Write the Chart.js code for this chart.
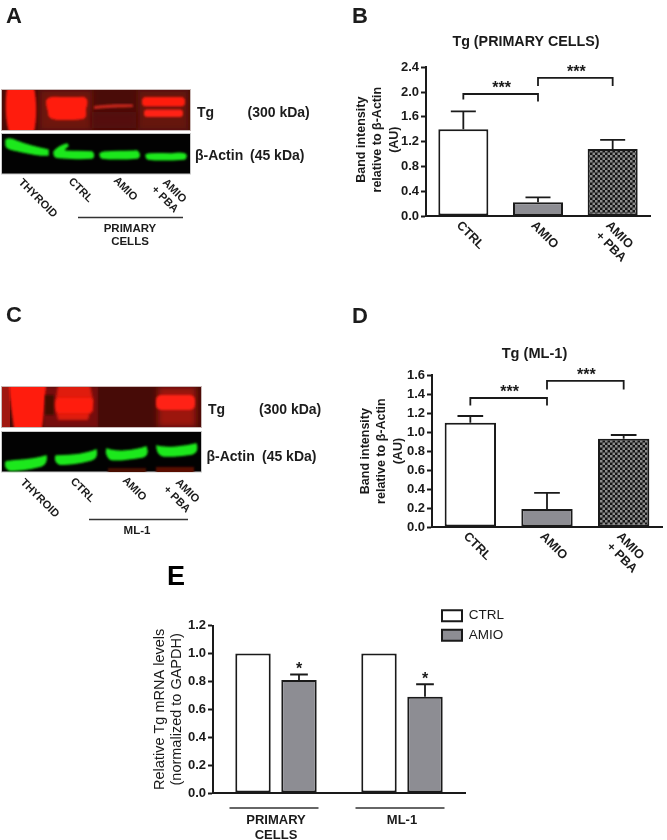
<!DOCTYPE html>
<html><head><meta charset="utf-8">
<script src="https://cdn.jsdelivr.net/npm/chart.js@4/dist/chart.umd.min.js"></script>
<style>
html,body{margin:0;padding:0;background:#fff;width:667px;height:840px;overflow:hidden}
#wrap{position:relative;width:667px;height:840px;filter:blur(0.4px)}
#wrap canvas,#wrap svg{position:absolute}
svg text{font-family:"Liberation Sans",Arial,sans-serif;font-weight:bold;fill:#1c1c1c}
</style></head><body>
<div id="wrap">
<svg id="art" width="667" height="840" style="left:0;top:0">
<defs>
<filter id="b1" x="-20%" y="-20%" width="140%" height="140%"><feGaussianBlur stdDeviation="1"/></filter>
<filter id="b2" x="-20%" y="-20%" width="140%" height="140%"><feGaussianBlur stdDeviation="1.800"/></filter>
<filter id="b3" x="-20%" y="-40%" width="140%" height="180%"><feGaussianBlur stdDeviation="3"/></filter>
<clipPath id="cA1"><rect x="2" y="90" width="188" height="40"/></clipPath>
<clipPath id="cC1"><rect x="2" y="387" width="199" height="40"/></clipPath>
<clipPath id="cC2"><rect x="2" y="432" width="199" height="40"/></clipPath>
</defs>
<!-- panel A blots -->
<rect x="1.500" y="89.500" width="189" height="41" fill="#4a0c08" stroke="#c9b9b7"/>
<g clip-path="url(#cA1)">
<rect x="40" y="90" width="52" height="40" fill="#6e120c" filter="url(#b3)"/>
<rect x="138" y="90" width="50" height="40" fill="#66120c" filter="url(#b3)"/>
<rect x="92" y="112" width="44" height="16" fill="#540e0a" filter="url(#b3)"/>
<path d="M7,88 H34 C37,100 37,120 34,132 H9 C5,120 5,100 7,88Z" fill="#ff1b0d" filter="url(#b1)"/>
<path d="M46,101 C47,97 52,96 60,97 H80 C85,96 88,99 87.500,103 C87,107 86,108 86,110 C86,113 87,115 85,118 C82,120 75,120 60,120 C52,120 48,118 48,113 C48,110 46,108 46,101Z" fill="#ff1d0e" filter="url(#b1)"/>
<path d="M94,106 C105,104.500 120,104 133,104.500 L133,107 C120,107.500 105,108 94,109Z" fill="#c8261c" filter="url(#b1)"/>
<rect x="142" y="97" width="43" height="9.500" rx="4" fill="#ff1d0e" filter="url(#b1)"/>
<rect x="144" y="109.500" width="39" height="7.500" rx="3" fill="#ff2212" filter="url(#b1)"/>
</g>
<rect x="1.500" y="133.500" width="189" height="40.500" fill="#020202" stroke="#c8c8c8"/>
<g fill="#1de81c" stroke="#1de81c" stroke-width="1.500" filter="url(#b1)">
<path d="M6,140 C9,138 12,139 16,141 C26,145 38,148 48,150 L48,155 C38,156 24,152 14,150 C9,149 6,148 6,145Z"/>
<path d="M54,152 C56,149 62,145 67,144 L68,146 C65,148 64,149 64,151 C70,152 85,151 92,152 C94,154 94,157 92,158 C80,159 62,158 56,157 C54,156 54,154 54,152Z"/>
<path d="M100,154 C102,151 115,152 137,151 C140,153 140,157 137,158 C125,159 110,159 102,158 C100,157 100,156 100,154Z"/>
<path d="M146,155 C148,153 160,154 172,154 C178,153 184,153 186,155 C186,157 186,159 184,159 C170,160 155,160 148,159 C146,158 146,157 146,155Z"/>
</g>
<!-- panel A text -->
<text x="197" y="117" font-size="14">Tg</text><text x="247.500" y="117" font-size="14">(300 kDa)</text>
<text x="195" y="159.500" font-size="14">β-Actin</text><text x="250" y="159.500" font-size="14">(45 kDa)</text>
<g font-size="11">
<text transform="translate(18 183) rotate(45)">THYROID</text>
<text transform="translate(68 182) rotate(45)">CTRL</text>
<text transform="translate(113 181) rotate(45)">AMIO</text>
<text transform="translate(162 183) rotate(45)">AMIO</text>
<text transform="translate(151 190) rotate(45)">+ PBA</text>
</g>
<line x1="78" x2="183" y1="217.500" y2="217.500" stroke="#333" stroke-width="1.500"/>
<g font-size="11.500" text-anchor="middle"><text x="130" y="231.500">PRIMARY</text><text x="130" y="245">CELLS</text></g>
<!-- panel C blots -->
<rect x="1.500" y="386.500" width="200" height="41" fill="#470b07" stroke="#c9b9b7"/>
<g clip-path="url(#cC1)">
<rect x="2" y="387" width="8" height="40" fill="#a01810"/>
<rect x="44" y="387" width="54" height="40" fill="#751109" filter="url(#b1)"/>
<path d="M9,385 H46 C45,400 44,415 42,429 H14 C12,415 10,400 9,385Z" fill="#ff1b0d" filter="url(#b1)"/>
<rect x="45" y="395" width="9" height="20" fill="#3f0906" filter="url(#b1)"/>
<path d="M58,385 H90 L93,400 L88,420 H58 L55,405Z" fill="#e01c0e" filter="url(#b2)"/>
<rect x="56" y="398" width="37" height="15" rx="4" fill="#ff1f10" filter="url(#b2)"/>
<rect x="158" y="387" width="38" height="40" fill="#9c170e" filter="url(#b3)"/>
<rect x="156" y="395" width="39" height="15" rx="5" fill="#ff2012" filter="url(#b1)"/>
</g>
<rect x="1.500" y="431.500" width="200" height="40.500" fill="#020202" stroke="#c8c8c8"/>
<g clip-path="url(#cC2)">
<rect x="108" y="468" width="38" height="6" fill="#4a0805" filter="url(#b1)"/>
<rect x="156" y="467" width="38" height="7" fill="#5a0a05" filter="url(#b1)"/>
</g>
<g fill="#1de81c" stroke="#1de81c" stroke-width="1.500" filter="url(#b1)">
<path d="M6,462 C15,460 30,461 46,456 C47,460 45,465 41,466 C30,469 15,471 9,470 C6,468 5,465 6,462Z"/>
<path d="M56,456 C65,456 85,455 96,450 C97,455 96,459 91,460 C80,463 65,465 59,464 C56,462 55,459 56,456Z"/>
<path d="M107,449 C115,453 135,451 146,447 C148,452 147,456 142,457 C130,459 115,461 110,459 C107,456 106,452 107,449Z"/>
<path d="M157,446 C165,449 185,447 196,444 C198,449 196,453 192,454 C180,456 165,457 161,455 C158,453 157,449 157,446Z"/>
</g>
<text x="208" y="413.500" font-size="14">Tg</text><text x="259" y="413.500" font-size="14">(300 kDa)</text>
<text x="206.500" y="460.500" font-size="14">β-Actin</text><text x="262" y="460.500" font-size="14">(45 kDa)</text>
<g font-size="11">
<text transform="translate(20 483) rotate(45)">THYROID</text>
<text transform="translate(70 482) rotate(45)">CTRL</text>
<text transform="translate(122 481) rotate(45)">AMIO</text>
<text transform="translate(175 483) rotate(45)">AMIO</text>
<text transform="translate(163 490) rotate(45)">+ PBA</text>
</g>
<line x1="89" x2="188" y1="519.500" y2="519.500" stroke="#333" stroke-width="1.500"/>
<text x="137" y="534" font-size="11.500" text-anchor="middle">ML-1</text>
<!-- panel letters -->
<g font-size="22" style="fill:#000">
<text x="6" y="23">A</text><text x="352" y="23">B</text><text x="6" y="322">C</text><text x="352" y="323">D</text>
</g>
<text x="167" y="585" font-size="27" style="fill:#000">E</text>
</svg>
<canvas id="chartB" style="left:340px;top:25px" width="327" height="251"></canvas>
<canvas id="chartD" style="left:340px;top:340px" width="327" height="247"></canvas>
<canvas id="chartE" style="left:130px;top:600px" width="400" height="240"></canvas>
</div>
<script>
// ---- Panel B
const categoriesB = ['CTRL', 'AMIO', ['AMIO', '+ PBA']];
const valuesB = [1.40, 0.22, 1.08];
const errorTopB = [1.69, 0.30, 1.23];
const ticksB = [0, 0.4, 0.8, 1.2, 1.6, 2.0, 2.4];
const bracketsB = [[0, 1, 1.97, 1.88, 1.85, '***'], [1, 2, 2.23, 2.10, 2.10, '***']];
// ---- Panel D
const categoriesD = ['CTRL', 'AMIO', ['AMIO', '+ PBA']];
const valuesD = [1.10, 0.19, 0.93];
const errorTopD = [1.17, 0.36, 0.97];
const ticksD = [0, 0.2, 0.4, 0.6, 0.8, 1.0, 1.2, 1.4, 1.6];
const bracketsD = [[0, 1, 1.36, 1.28, 1.28, '***'], [1, 2, 1.54, 1.45, 1.45, '***']];
// ---- Panel E
const categoriesE = [['PRIMARY', 'CELLS'], 'ML-1'];
const seriesCtrlE = [1.0, 1.0];
const seriesAmioE = [0.81, 0.69];
const errorTopE = [0.85, 0.78];
const ticksE = [0, 0.2, 0.4, 0.6, 0.8, 1.0, 1.2];

const INK = '#1a1a1a', GRAY = '#8d8d93';
const FONT = '"Liberation Sans", Arial, sans-serif';
Chart.defaults.font.family = FONT;
Chart.defaults.color = INK;
Chart.defaults.animation = false;

function checker(ctx) {
  const c = document.createElement('canvas'); c.width = c.height = 5;
  const g = c.getContext('2d');
  g.fillStyle = '#141414'; g.fillRect(0, 0, 5, 5);
  g.fillStyle = '#8c8c8c'; g.fillRect(0, 0, 2.5, 2.5); g.fillRect(2.5, 2.5, 2.5, 2.5);
  return ctx.createPattern(c, 'repeat');
}

const annotate = {
  id: 'annotate',
  afterLayout(chart, _a, o) {
    if (chart.titleBlock && o.titleShift) { chart.titleBlock.left += o.titleShift; chart.titleBlock.right += o.titleShift; }
    if (o.legendAt) {
      const l = chart.legend; const [x, y] = o.legendAt;
      l.left = x; l.right = x + 90; l.top = y; l.bottom = y + 50;
    }
  },
  afterDatasetsDraw(chart, _a, o) {
    const { ctx, scales: { x, y } } = chart;
    ctx.save();
    ctx.strokeStyle = INK; ctx.fillStyle = INK; ctx.lineWidth = 1.8;
    (o.errors || []).forEach(e => {
      const bar = chart.getDatasetMeta(e.dataset).data;
      e.tops.forEach((top, i) => {
        const px = bar[i].x, hw = bar[i].width / 4;
        ctx.beginPath();
        ctx.moveTo(px, y.getPixelForValue(chart.data.datasets[e.dataset].data[i]));
        ctx.lineTo(px, y.getPixelForValue(top));
        ctx.moveTo(px - hw, y.getPixelForValue(top));
        ctx.lineTo(px + hw, y.getPixelForValue(top));
        ctx.stroke();
      });
    });
    (o.brackets || []).forEach(([a, b, v, ta, tb, label]) => {
      const xa = x.getPixelForValue(a), xb = x.getPixelForValue(b), yy = y.getPixelForValue(v);
      ctx.beginPath();
      ctx.moveTo(xa, y.getPixelForValue(ta)); ctx.lineTo(xa, yy);
      ctx.lineTo(xb, yy); ctx.lineTo(xb, y.getPixelForValue(tb));
      ctx.stroke();
      ctx.font = 'bold 16px ' + FONT; ctx.textAlign = 'center'; ctx.textBaseline = 'alphabetic';
      ctx.fillText(label, (xa + xb) / 2 + 1, yy - 1);
    });
    (o.stars || []).forEach(([dsIndex, i, v, label]) => {
      const px = chart.getDatasetMeta(dsIndex).data[i].x;
      ctx.font = 'bold 16px ' + FONT; ctx.textAlign = 'center'; ctx.textBaseline = 'alphabetic';
      ctx.fillText(label, px, y.getPixelForValue(v) + 5);
    });
    (o.groupLines || []).forEach(([i, half, py]) => {
      const px = x.getPixelForValue(i) - 2;
      ctx.lineWidth = 1.5; ctx.strokeStyle = '#333';
      ctx.beginPath(); ctx.moveTo(px - half, py); ctx.lineTo(px + half, py); ctx.stroke();
    });
    ctx.restore();
  }
};

function shiftDraw(scale, method, dx, dy) {
  scale[method] = function (...args) {
    const c = this.ctx; c.save(); c.translate(dx, dy);
    Chart.Scale.prototype[method].apply(this, args); c.restore();
  };
}

function common(o) {
  return {
    responsive: false, maintainAspectRatio: false,
    layout: { padding: o.padding },
    plugins: {
      legend: o.legend || { display: false },
      tooltip: { enabled: false },
      title: o.title ? { display: true, text: o.title, font: { size: o.titleSize, weight: 'bold' }, color: INK, padding: o.titlePad, align: 'center' } : { display: false },
      annotate: o.ann
    },
    scales: {
      x: {
        grid: { display: false, drawTicks: false },
        border: { color: INK, width: 2 },
        ticks: {
          autoSkip: false, minRotation: o.rot, maxRotation: o.rot, padding: o.xPad,
          font: { size: o.xFont, weight: 'bold', lineHeight: 1.15 }, color: INK
        },
        afterFit(s) {
          s.height = o.xH;
          if (o.rot) { s._getXAxisLabelAlignment = () => 'left'; shiftDraw(s, 'drawLabels', -5, 0); }
        }
      },
      y: {
        min: o.ticks[0], max: o.ticks[o.ticks.length - 1],
        afterBuildTicks(s) { s.ticks = o.ticks.map(v => ({ value: v })); },
        grid: { display: true, drawOnChartArea: false, drawTicks: true, tickLength: 5, tickWidth: 2, tickColor: INK },
        border: { color: INK, width: 2 },
        ticks: { padding: 2, font: { size: 13, weight: 'bold' }, color: INK, callback: v => v.toFixed(1) },
        title: {
          display: true, text: o.yTitle, color: INK,
          font: { size: o.yTitleSize, weight: o.yTitleWeight, lineHeight: o.yTitleLH }, padding: 0
        },
        afterFit(s) { s.width = o.yW; shiftDraw(s, 'drawTitle', o.yTitleShift[0], o.yTitleShift[1]); }
      }
    }
  };
}

const ctxB = document.getElementById('chartB').getContext('2d');
new Chart(ctxB, {
  type: 'bar',
  data: { labels: categoriesB, datasets: [{
    data: valuesB,
    backgroundColor: ['#ffffff', GRAY, checker(ctxB)], borderColor: INK, borderWidth: 2, borderSkipped: false,
    categoryPercentage: 1, barPercentage: 0.67 }] },
  plugins: [annotate],
  options: common({
    padding: { left: 10, right: 17, top: 0, bottom: 0 },
    title: 'Tg (PRIMARY CELLS)', titleSize: 14.300, titlePad: { top: 8, bottom: 17.200 },
    ann: { errors: [{ dataset: 0, tops: errorTopB }], brackets: bracketsB, titleShift: 26 },
    rot: -45, xPad: 2.5, xFont: 12.500, xH: 60, ticks: ticksB, yW: 76,
    yTitle: ['Band intensity', 'relative to β-Actin', '(AU)'], yTitleSize: 12.500, yTitleWeight: 'bold', yTitleLH: 1.32, yTitleShift: [3, -2]
  })
});

const ctxD = document.getElementById('chartD').getContext('2d');
new Chart(ctxD, {
  type: 'bar',
  data: { labels: categoriesD, datasets: [{
    data: valuesD,
    backgroundColor: ['#ffffff', GRAY, checker(ctxD)], borderColor: INK, borderWidth: 2, borderSkipped: false,
    categoryPercentage: 1, barPercentage: 0.67 }] },
  plugins: [annotate],
  options: common({
    padding: { left: 14, right: 5, top: 0, bottom: 0 },
    title: 'Tg (ML-1)', titleSize: 14.600, titlePad: { top: 5, bottom: 12.7 },
    ann: { errors: [{ dataset: 0, tops: errorTopD }], brackets: bracketsD, titleShift: 26.5 },
    rot: -45, xPad: 2.5, xFont: 12.500, xH: 60, ticks: ticksD, yW: 78,
    yTitle: ['Band intensity', 'relative to β-Actin', '(AU)'], yTitleSize: 12.500, yTitleWeight: 'bold', yTitleLH: 1.32, yTitleShift: [3, 0]
  })
});

const ctxE = document.getElementById('chartE').getContext('2d');
new Chart(ctxE, {
  type: 'bar',
  data: { labels: categoriesE, datasets: [
    { label: 'CTRL', data: seriesCtrlE, backgroundColor: '#ffffff', borderColor: INK, borderWidth: 2, borderSkipped: false, categoryPercentage: 0.73, barPercentage: 0.77 },
    { label: 'AMIO', data: seriesAmioE, backgroundColor: GRAY, borderColor: INK, borderWidth: 2, borderSkipped: false, categoryPercentage: 0.73, barPercentage: 0.77 }
  ] },
  plugins: [annotate],
  options: common({
    padding: { left: 20, right: 65, top: 25.7, bottom: 0 },
    legend: { display: true, position: 'chartArea', align: 'start',
      labels: { boxWidth: 20, boxHeight: 11, padding: 6, color: INK, font: { size: 13.5 } } },
    ann: { errors: [{ dataset: 1, tops: errorTopE }],
      stars: [[1, 0, 0.89, '*'], [1, 1, 0.82, '*']], groupLines: [[0, 44.500, 208], [1, 44.500, 208]],
      legendAt: [306, 3] },
    rot: 0, xPad: 20, xFont: 13, xH: 47, ticks: ticksE, yW: 63,
    yTitle: ['Relative Tg mRNA levels', '(normalized to GAPDH)'], yTitleSize: 14.500, yTitleWeight: 'normal', yTitleLH: 1.15, yTitleShift: [2, 0]
  })
});
</script>
</body></html>
